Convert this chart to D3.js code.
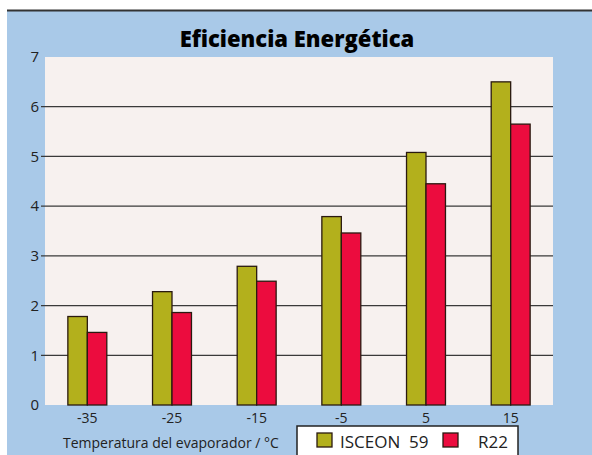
<!DOCTYPE html>
<html>
<head>
<meta charset="utf-8">
<script src="https://cdn.jsdelivr.net/npm/d3@7"></script>
<style>
  body { margin: 0; background: #fff; }
  svg text { font-family: "Open Sans", sans-serif; }
</style>
</head>
<body>
<div id="chartDiv"></div>
<script>
// data
let temps = ["-35", "-25", "-15", "-5", "5", "15"];
let seriesNames = ["ISCEON  59", "R22"];
let isceon = [1.78, 2.28, 2.79, 3.79, 5.08, 6.5];
let r22 = [1.46, 1.86, 2.49, 3.46, 4.45, 5.65];
let yTicks = [0, 1, 2, 3, 4, 5, 6, 7];
let colors = ["#b3b01c", "#ec0c3e"];

let W = 592, H = 455;
let svg = d3.select("#chartDiv").append("svg")
    .attr("width", W).attr("height", H);

// blue page background + top rule
svg.append("rect").attr("x", 7).attr("y", 11).attr("width", W - 7).attr("height", H - 11)
    .attr("fill", "#a9c9e8");
svg.append("line").attr("x1", 7).attr("x2", W).attr("y1", 10.5).attr("y2", 10.5)
    .attr("stroke", "#333").attr("stroke-width", 2);

let plotLeft = 45, plotRight = 553, plotTop = 57, plotBottom = 405;

svg.append("rect").attr("x", plotLeft).attr("y", plotTop)
    .attr("width", plotRight - plotLeft).attr("height", plotBottom - plotTop)
    .attr("fill", "#f7f1ef");

svg.append("text").attr("x", 297).attr("y", 47)
    .attr("text-anchor", "middle")
    .style("font-size", "22px").style("font-weight", "800")
    .text("Eficiencia Energética");

let xScale = d3.scaleBand().domain(temps).range([plotLeft, plotRight]).paddingInner(0.54).paddingOuter(0.27);
let xSub = d3.scaleBand().domain([0, 1]).range([0, xScale.bandwidth()]);
let yScale = d3.scaleLinear().domain([0, 7]).range([plotBottom, plotTop]);

// gridlines
svg.append("g").selectAll("line")
    .data(yTicks.filter(d => d > 0 && d < 7))
    .enter().append("line")
    .attr("x1", 41).attr("x2", plotRight)
    .attr("y1", d => yScale(d)).attr("y2", d => yScale(d))
    .attr("stroke", "#3a3a3a").attr("stroke-width", 1.3);

let yAxis = d3.axisLeft(yScale).tickValues(yTicks).tickFormat(d3.format("d")).tickSize(0).tickPadding(0);
let yg = svg.append("g").attr("transform", "translate(39,0)").call(yAxis);
yg.select(".domain").remove();
yg.selectAll("text").style("font-size", "15px").attr("fill", "#222");

let xAxis = d3.axisBottom(xScale).tickSize(0).tickPadding(8);
let xg = svg.append("g").attr("transform", "translate(0," + plotBottom + ")").call(xAxis);
xg.select(".domain").remove();
xg.selectAll("text").style("font-size", "14px").attr("fill", "#222");

let dataList = temps.map((t, i) => [isceon[i], r22[i]]);

let groups = svg.append("g").selectAll("g")
    .data(dataList).enter().append("g")
    .attr("transform", (d, i) => "translate(" + xScale(temps[i]) + ",0)");

groups.selectAll("rect")
    .data(d => d).enter().append("rect")
    .attr("x", (d, j) => xSub(j))
    .attr("width", xSub.bandwidth())
    .attr("y", d => yScale(d))
    .attr("height", d => plotBottom - yScale(d))
    .attr("fill", (d, j) => colors[j])
    .attr("stroke", "#2a1a10").attr("stroke-width", 1.3);

svg.append("text").attr("x", 63).attr("y", 448)
    .style("font-size", "14px").attr("fill", "#222")
    .text("Temperatura del evaporador / °C");

// legend
let legend = svg.append("g");
legend.append("rect").attr("x", 297).attr("y", 426).attr("width", 221).attr("height", 40)
    .attr("fill", "#fff").attr("stroke", "#222").attr("stroke-width", 1.5);
let legX = [317, 443], legTextX = [340, 478];
seriesNames.forEach((name, j) => {
  legend.append("rect").attr("x", legX[j]).attr("y", 433).attr("width", 15).attr("height", 14)
      .attr("fill", colors[j]).attr("stroke", "#2a1a10").attr("stroke-width", 1.3);
  legend.append("text").attr("x", legTextX[j]).attr("y", 448)
      .style("font-size", "17px").style("white-space", "pre").attr("fill", "#222")
      .text(name);
});
</script>
</body>
</html>
